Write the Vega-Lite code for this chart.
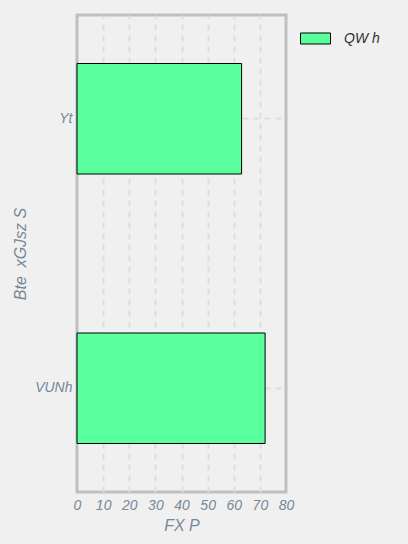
{
  "$schema": "https://vega.github.io/schema/vega-lite/v6.json",
  "width": 209,
  "height": 477,
  "autosize": {"type": "none"},
  "padding": {"left": 77, "top": 15, "right": 122, "bottom": 52},
  "background": "#f0f0f0",
  "data": {
    "values": [
      {"category": "Yt", "value": 63, "series": "QW h"},
      {"category": "VUNh", "value": 72, "series": "QW h"}
    ]
  },
  "mark": {"type": "bar", "stroke": "black", "strokeWidth": 1},
  "encoding": {
    "y": {
      "field": "category",
      "type": "nominal",
      "sort": ["Yt", "VUNh"],
      "scale": {"paddingInner": 0.59, "paddingOuter": 0.18},
      "axis": {"title": "Bte\u00a0 xGJsz S", "titlePadding": 6}
    },
    "x": {
      "field": "value",
      "type": "quantitative",
      "scale": {"domain": [0, 80], "nice": false},
      "axis": {
        "title": "FX P",
        "values": [0, 10, 20, 30, 40, 50, 60, 70, 80],
        "labelFlush": false,
        "labelPadding": 6,
        "titlePadding": 5,
        "gridColor": {"condition": {"test": "datum.value === 0 || datum.value === 80", "value": "transparent"}, "value": "#dedede"}
      }
    },
    "color": {
      "field": "series",
      "type": "nominal",
      "scale": {"range": ["#58ff9c"]},
      "legend": {
        "title": null,
        "orient": "none",
        "legendX": 223,
        "legendY": 8,
        "symbolType": "M-1,-0.367L1,-0.367L1,0.367L-1,0.367Z",
        "symbolSize": 900,
        "symbolStrokeColor": "black",
        "symbolStrokeWidth": 1,
        "symbolOpacity": 1,
        "labelOffset": 13,
        "labelFont": "Liberation Sans",
        "labelFontStyle": "italic",
        "labelFontSize": 14,
        "labelColor": "#333333"
      }
    }
  },
  "config": {
    "view": {"stroke": "#bfbfbf", "strokeWidth": 3},
    "axis": {
      "domain": false,
      "ticks": false,
      "grid": true,
      "gridColor": "#dedede",
      "gridDash": [6, 5],
      "gridWidth": 2,
      "labelFont": "Liberation Sans",
      "labelFontStyle": "italic",
      "labelFontSize": 14,
      "labelColor": "#778899",
      "labelPadding": 5,
      "titleFont": "Liberation Sans",
      "titleFontStyle": "italic",
      "titleFontWeight": "normal",
      "titleFontSize": 16,
      "titleColor": "#778899"
    },
    "axisY": {"bandPosition": 0.5}
  }
}
